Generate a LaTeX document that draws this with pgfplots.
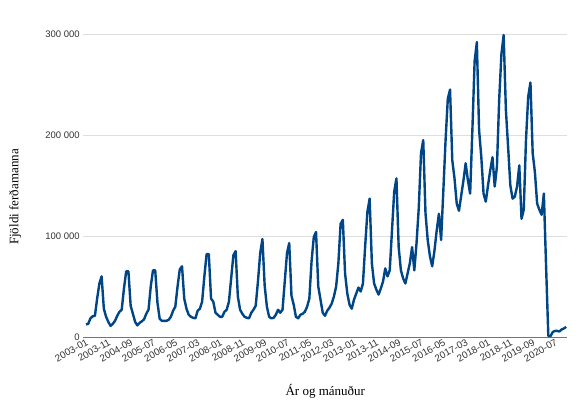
\documentclass[border=0pt]{standalone}
\usepackage{fontspec}
\setmainfont{Liberation Serif}
\newfontfamily\sansf{Liberation Sans}
\usepackage{pgfplots}
\pgfplotsset{compat=1.18}
\definecolor{series}{HTML}{004586}
\begin{document}
\begin{tikzpicture}
\path[use as bounding box] (-83.3pt,-70pt) rectangle (499.7pt,337pt);
\begin{axis}[
  scale only axis, width=484pt, height=303pt,
  xmin=-1.2, xmax=215.5, ymin=0, ymax=300000,
  scaled y ticks=false,
  axis x line*=bottom, axis y line*=left,
  x axis line style={draw=black!55, line width=0.8pt, -},
  y axis line style={draw=none},
  ymajorgrids, grid style={draw=black!13, line width=0.8pt},
  major tick length=0pt,
  xtick={0,10,...,210},
  xticklabels={2003-01,2003-11,2004-09,2005-07,2006-05,2007-03,2008-01,2008-11,2009-09,2010-07,2011-05,2012-03,2013-01,2013-11,2014-09,2015-07,2016-05,2017-03,2018-01,2018-11,2019-09,2020-07},
  xticklabel style={font=\sansf\fontsize{9.8}{10}\selectfont, rotate=29, anchor=north east, text=black!80, inner sep=1pt},
  ytick={0,100000,200000,300000},
  yticklabels={0,100 000,200 000,300 000},
  yticklabel style={font=\sansf\fontsize{9.5}{11}\selectfont, text=black!80},
  xlabel={Ár og mánuður}, ylabel={Fjöldi ferðamanna},
  label style={font=\fontsize{13}{15}\selectfont},
  xlabel style={at={(rel axis cs:0.5,-0.178)}, anchor=center},
  ylabel style={at={(rel axis cs:-0.141,0.462)}, anchor=center},
  clip=false,
]
\addplot[series, line width=2.4pt, line join=round, no marks] table[x expr=\coordindex, y index=0, header=false, row sep=\\] {
12500\\ 13000\\ 18500\\ 20500\\ 21000\\ 38000\\ 53000\\ 60000\\ 28000\\ 20000\\ 15000\\ 11000\\
13000\\ 16000\\ 21000\\ 25000\\ 27000\\ 48000\\ 65000\\ 65000\\ 31000\\ 23000\\ 15000\\ 11500\\
14000\\ 15500\\ 17500\\ 23000\\ 27000\\ 50000\\ 66000\\ 66000\\ 34000\\ 18000\\ 16000\\ 16000\\
16000\\ 17000\\ 20000\\ 26000\\ 30000\\ 50000\\ 67000\\ 70000\\ 38000\\ 28000\\ 22000\\ 20000\\
19000\\ 18500\\ 26000\\ 28000\\ 35000\\ 60000\\ 82000\\ 82000\\ 38000\\ 35000\\ 24000\\ 22000\\
20000\\ 20000\\ 25000\\ 27000\\ 35000\\ 58000\\ 81000\\ 85000\\ 40000\\ 27000\\ 23000\\ 20000\\
19000\\ 18500\\ 24000\\ 27000\\ 31000\\ 55000\\ 83000\\ 97000\\ 51000\\ 30000\\ 20000\\ 18500\\
19000\\ 22000\\ 27000\\ 24000\\ 27000\\ 55000\\ 83000\\ 93000\\ 41000\\ 32000\\ 20000\\ 18500\\
22000\\ 23000\\ 25000\\ 30000\\ 38000\\ 75000\\ 99000\\ 104000\\ 50000\\ 37000\\ 24000\\ 21000\\
26000\\ 29000\\ 33000\\ 40000\\ 50000\\ 73000\\ 112000\\ 116000\\ 63000\\ 43000\\ 32000\\ 28000\\
37000\\ 43000\\ 49000\\ 45000\\ 53000\\ 90000\\ 124000\\ 137000\\ 73000\\ 53000\\ 47000\\ 42000\\
48000\\ 55000\\ 68000\\ 60000\\ 66000\\ 105000\\ 144000\\ 157000\\ 89000\\ 66000\\ 58000\\ 53000\\
63000\\ 73000\\ 89000\\ 66000\\ 93000\\ 128000\\ 182000\\ 195000\\ 123000\\ 96000\\ 80000\\ 70000\\
85000\\ 105000\\ 122000\\ 96000\\ 145000\\ 195000\\ 236000\\ 245000\\ 175000\\ 157000\\ 132000\\ 125000\\
140000\\ 155000\\ 172000\\ 155000\\ 142000\\ 205000\\ 273000\\ 292000\\ 205000\\ 178000\\ 142000\\ 134000\\
150000\\ 165000\\ 178000\\ 149000\\ 169000\\ 235000\\ 280000\\ 299000\\ 225000\\ 188000\\ 150000\\ 137000\\
139000\\ 149000\\ 170000\\ 117000\\ 126000\\ 195000\\ 238000\\ 252000\\ 182000\\ 163000\\ 132000\\ 126000\\
121000\\ 142000\\ 70000\\ 1000\\ 1000\\ 5000\\ 6000\\ 6000\\ 5500\\ 7500\\ 8500\\ 10000\\
};
\end{axis}
\end{tikzpicture}
\end{document}
